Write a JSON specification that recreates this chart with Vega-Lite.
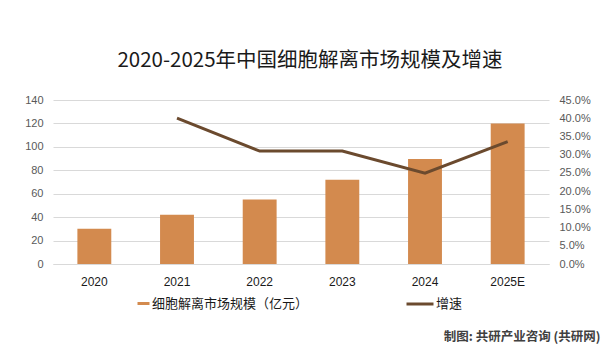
{
  "$schema": "https://vega.github.io/schema/vega-lite/v6.json",
  "width": 496,
  "height": 164,
  "autosize": {"type": "none"},
  "padding": {"left": 53, "top": 100, "right": 63, "bottom": 94},
  "background": "white",
  "config": {
    "font": "Noto Sans CJK SC",
    "view": {"stroke": null},
    "axis": {"labelFont": "Liberation Sans", "labelColor": "#595959", "labelFontSize": 11, "domain": false, "ticks": false}
  },
  "title": {
    "text": "2020-2025年中国细胞解离市场规模及增速",
    "fontSize": 20.5,
    "fontWeight": "normal",
    "color": "#1a1a1a",
    "anchor": "middle",
    "dx": 9,
    "offset": 23
  },
  "data": {
    "values": [
      {"year": "2020", "size": 30, "growth": null},
      {"year": "2021", "size": 42, "growth": 0.40},
      {"year": "2022", "size": 55, "growth": 0.31},
      {"year": "2023", "size": 72, "growth": 0.31},
      {"year": "2024", "size": 89.6, "growth": 0.249},
      {"year": "2025E", "size": 120, "growth": 0.336}
    ]
  },
  "encoding": {
    "x": {
      "field": "year",
      "type": "ordinal",
      "sort": null,
      "scale": {"paddingInner": 0.59, "paddingOuter": 0.295},
      "axis": {
        "labelAngle": 0,
        "labelPadding": 12,
        "labelColor": "#1a1a1a",
        "labelFontSize": 12,
        "domain": true,
        "domainColor": "#d9d9d9",
        "title": "制图: 共研产业咨询 (共研网)",
        "titleFont": "Noto Sans CJK SC",
        "titleFontSize": 12.5,
        "titleFontWeight": "bold",
        "titleColor": "#404040",
        "titleAlign": "right",
        "titleBaseline": "middle",
        "titleAnchor": null,
        "titleX": 547,
        "titleY": 72
      }
    }
  },
  "layer": [
    {
      "mark": {"type": "bar", "color": "#D38A4E"},
      "encoding": {
        "y": {
          "field": "size",
          "type": "quantitative",
          "scale": {"domain": [0, 140]},
          "axis": {
            "values": [0, 20, 40, 60, 80, 100, 120, 140],
            "title": null,
            "grid": true,
            "gridColor": "#d9d9d9",
            "labelPadding": 10
          }
        },
        "color": {
          "datum": "细胞解离市场规模（亿元）",
          "scale": {"range": ["#D38A4E"]},
          "legend": {
            "title": null,
            "orient": "none",
            "legendX": 84,
            "legendY": 197,
            "symbolType": "M-1,-0.25H1V0.25H-1Z",
            "symbolSize": 144,
            "symbolStrokeWidth": 0,
            "labelOffset": 2,
            "labelFontSize": 13,
            "labelColor": "#1a1a1a",
            "labelFont": "Noto Sans CJK SC"
          }
        }
      }
    },
    {
      "mark": {"type": "line", "strokeWidth": 3, "color": "#6B4A2E"},
      "encoding": {
        "y": {
          "field": "growth",
          "type": "quantitative",
          "scale": {"domain": [0, 0.45]},
          "axis": {
            "orient": "right",
            "values": [0, 0.05, 0.1, 0.15, 0.2, 0.25, 0.3, 0.35, 0.4, 0.45],
            "format": ".1%",
            "title": null,
            "grid": false,
            "labelPadding": 10
          }
        },
        "stroke": {
          "datum": "增速",
          "scale": {"range": ["#6B4A2E"]},
          "legend": {
            "title": null,
            "orient": "none",
            "legendX": 352,
            "legendY": 189,
            "symbolStrokeWidth": 3,
            "symbolSize": 729,
            "labelOffset": 1,
            "labelFontSize": 13,
            "labelColor": "#1a1a1a",
            "labelFont": "Noto Sans CJK SC"
          }
        }
      }
    }
  ],
  "resolve": {"scale": {"y": "independent"}}
}
